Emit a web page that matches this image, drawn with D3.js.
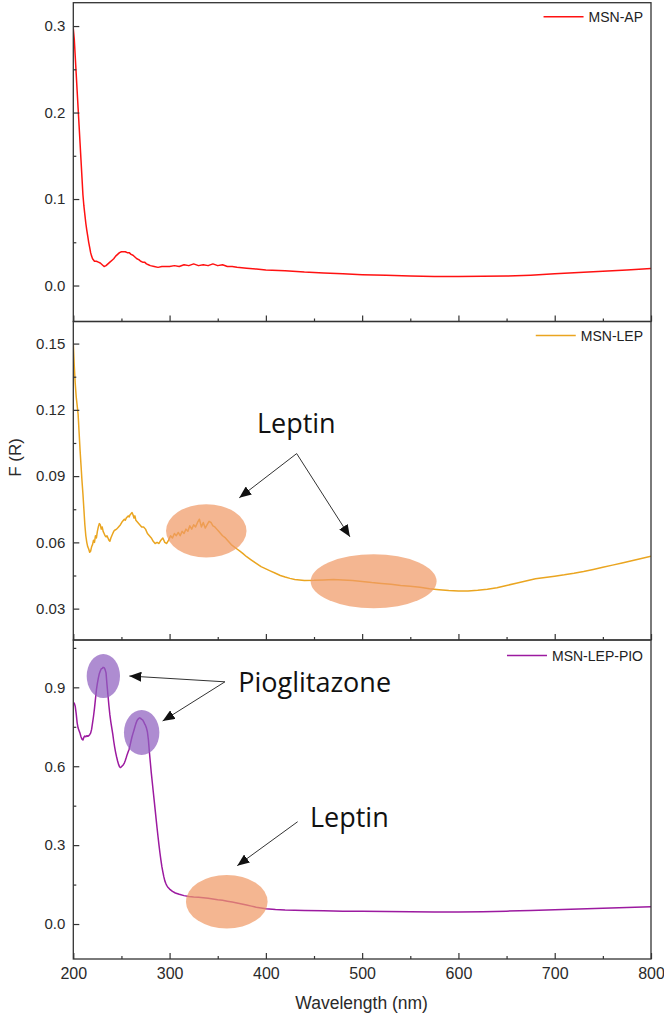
<!DOCTYPE html>
<html><head><meta charset="utf-8">
<script src="https://cdn.jsdelivr.net/npm/d3@7"></script>
<style>body{margin:0;background:#fff}svg{display:block}</style>
</head><body>
<script>
// ---------- DATA ----------
const xTicks = [200,300,400,500,600,700,800];
const xMinorTicks = [250,350,450,550,650,750];

const apWl = [200,201,202,203,204,205,206,207,208,209,210,211,212,213,214,215,216,217,218,219,220,222,224,226,228,230,232,234,236,238,240,242,244,246,248,250,252,254,256,258,260,262,264,266,268,270,272,274,276,278,280,284,288,292,296,300,305,310,315,320,325,330,335,340,345,350,355,360,365,370,380,390,400,420,440,460,480,500,525,550,575,600,625,650,675,700,725,750,775,800];
const apVal = [0.297,0.285,0.265,0.245,0.225,0.205,0.185,0.165,0.145,0.125,0.105,0.092,0.082,0.072,0.064,0.057,0.050,0.044,0.038,0.034,0.031,0.028,0.028,0.027,0.026,0.024,0.022,0.023,0.025,0.027,0.029,0.031,0.034,0.036,0.038,0.039,0.039,0.039,0.038,0.038,0.036,0.035,0.033,0.031,0.030,0.028,0.027,0.027,0.025,0.024,0.023,0.022,0.021,0.022,0.022,0.022,0.023,0.022,0.024,0.023,0.025,0.023,0.024,0.023,0.025,0.023,0.024,0.022,0.022,0.021,0.020,0.019,0.018,0.017,0.0155,0.0145,0.0135,0.0125,0.0118,0.011,0.0105,0.0103,0.0106,0.011,0.012,0.0135,0.015,0.0165,0.018,0.0198];

const lepWl = [200,201,202,203,204,205,206,207,208,209,210,211,212,213,214,215,216,217,218,219,220,221,222,223,224,225,226,227,228,229,230,231,232,233,234,235,236,237,238,239,240,241,242,243,245,247,249,251,253,254,255,256,257,258,259,260,261,262,263,264,265,267,269,271,273,275,277,279,281,283,285,287,289,291,293,295,297,299,301,303,305,307,309,311,313,315,317,319,321,323,325,327,329,331,333,335,337,339,341,343,345,347,349,351,353,355,358,361,364,367,370,373,376,380,385,390,395,400,405,410,415,420,425,430,440,450,460,470,480,490,500,510,520,530,540,550,560,570,580,590,600,610,620,630,640,650,660,670,680,690,700,710,720,730,740,750,760,770,780,790,800];
const lepVal = [0.150,0.140,0.132,0.126,0.122,0.118,0.110,0.102,0.095,0.088,0.082,0.075,0.068,0.063,0.060,0.058,0.057,0.0555,0.056,0.058,0.059,0.061,0.060,0.063,0.062,0.065,0.067,0.0685,0.068,0.066,0.067,0.065,0.064,0.063,0.0625,0.063,0.062,0.061,0.0605,0.062,0.063,0.064,0.065,0.0655,0.066,0.067,0.068,0.0695,0.0705,0.070,0.071,0.0715,0.072,0.0715,0.0725,0.073,0.0735,0.0725,0.071,0.072,0.070,0.069,0.068,0.067,0.067,0.066,0.064,0.063,0.062,0.0605,0.0595,0.060,0.0595,0.061,0.062,0.060,0.0595,0.061,0.063,0.062,0.064,0.063,0.0645,0.063,0.065,0.064,0.066,0.065,0.0675,0.066,0.068,0.067,0.069,0.0705,0.067,0.069,0.0665,0.068,0.0695,0.069,0.0675,0.067,0.066,0.065,0.064,0.063,0.062,0.0605,0.059,0.058,0.057,0.056,0.055,0.0535,0.052,0.0505,0.049,0.048,0.047,0.046,0.045,0.0443,0.0437,0.0432,0.0427,0.0428,0.043,0.0432,0.043,0.0427,0.0423,0.0418,0.0414,0.041,0.0405,0.0401,0.0397,0.039,0.0386,0.0382,0.038,0.038,0.0383,0.0388,0.0395,0.0405,0.0415,0.0425,0.0435,0.0441,0.0447,0.0453,0.046,0.0468,0.0477,0.0487,0.0497,0.0507,0.0517,0.0527,0.0537];

const pioWl = [200,201,202,203,204,205,206,207,208,209,210,211,212,213,214,215,216,217,218,219,220,221,222,223,224,225,226,227,228,229,230,231,232,233,234,235,236,237,238,239,240,241,242,243,244,245,246,247,248,249,250,251,252,253,254,255,256,257,258,259,260,261,262,263,264,265,266,267,268,269,270,271,272,273,274,275,276,277,278,279,280,281,282,283,284,285,286,287,288,289,290,291,292,293,294,295,296,297,298,300,303,306,310,315,320,325,330,335,340,345,350,355,360,365,370,375,380,385,390,395,400,410,420,430,440,460,480,500,525,550,575,600,625,650,675,700,725,750,775,800];
const pioVal = [0.838,0.840,0.828,0.800,0.765,0.745,0.735,0.725,0.712,0.703,0.700,0.710,0.715,0.712,0.716,0.714,0.716,0.720,0.726,0.740,0.765,0.790,0.820,0.855,0.890,0.915,0.935,0.952,0.962,0.970,0.972,0.976,0.975,0.968,0.955,0.910,0.870,0.830,0.795,0.768,0.745,0.722,0.695,0.672,0.652,0.635,0.620,0.607,0.598,0.595,0.598,0.602,0.606,0.612,0.622,0.633,0.645,0.655,0.665,0.680,0.697,0.712,0.725,0.737,0.750,0.762,0.772,0.778,0.782,0.784,0.782,0.778,0.776,0.770,0.762,0.755,0.745,0.730,0.700,0.655,0.615,0.575,0.540,0.505,0.470,0.435,0.400,0.365,0.332,0.300,0.270,0.243,0.218,0.198,0.180,0.165,0.155,0.147,0.141,0.133,0.124,0.118,0.113,0.108,0.105,0.103,0.102,0.100,0.098,0.095,0.092,0.090,0.087,0.084,0.080,0.076,0.072,0.068,0.064,0.061,0.058,0.055,0.053,0.052,0.051,0.050,0.049,0.049,0.048,0.047,0.046,0.046,0.047,0.049,0.051,0.054,0.057,0.060,0.063,0.066];

const apTicks = [0.0,0.1,0.2,0.3];
const apMinor = [0.05,0.15,0.25];
const lepTicks = [0.03,0.06,0.09,0.12,0.15];
const lepMinor = [0.045,0.075,0.105,0.135];
const pioTicks = [0.0,0.3,0.6,0.9];
const pioMinor = [0.15,0.45,0.75,1.05];

const seriesNames = ["MSN-AP","MSN-LEP","MSN-LEP-PIO"];
const seriesColors = ["#ff1111","#eaa520","#9c1aa0"];

// ---------- LAYOUT ----------
const W = 664, H = 1014;
const left = 73.3, right = 651;
const panels = [
  {top:2.7,  bottom:321.5, domain:[-0.0416,0.327], ticks:apTicks, minor:apMinor, fmt:d3.format(".1f"), wl:apWl, val:apVal},
  {top:321.5,bottom:640,   domain:[0.0158,0.160],  ticks:lepTicks, minor:lepMinor, fmt:d3.format(".2f"), wl:lepWl, val:lepVal},
  {top:640,  bottom:959,   domain:[-0.133,1.08],   ticks:pioTicks, minor:pioMinor, fmt:d3.format(".1f"), wl:pioWl, val:pioVal}
];

const svg = d3.select("body").append("svg").attr("width",W).attr("height",H);
const defs = svg.append("defs");
defs.append("marker").attr("id","ah").attr("viewBox","0 0 12 10")
  .attr("refX",12).attr("refY",5).attr("markerWidth",12).attr("markerHeight",10)
  .attr("markerUnits","userSpaceOnUse").attr("orient","auto")
  .append("path").attr("d","M0,0 L12,5 L0,10 Z").attr("fill","#111");

const x = d3.scaleLinear().domain([200,800]).range([left,right]);
const tickFont = "Liberation Sans, Arial, sans-serif";

panels.forEach((p,i)=>{
  const y = d3.scaleLinear().domain(p.domain).range([p.bottom,p.top]);
  p.y = y;
  const g = svg.append("g");
  const cid = "clip"+i;
  defs.append("clipPath").attr("id",cid).append("rect")
    .attr("x",left).attr("y",p.top).attr("width",right-left).attr("height",p.bottom-p.top);
  const data = p.wl.map((w,k)=>[w,p.val[k]]);
  g.append("path").datum(data).attr("clip-path",`url(#${cid})`)
    .attr("fill","none").attr("stroke",seriesColors[i]).attr("stroke-width",1.5)
    .attr("stroke-linejoin","round")
    .attr("d",d3.line().x(d=>x(d[0])).y(d=>y(d[1])));
  const ya = g.append("g").attr("transform",`translate(${left},0)`)
    .call(d3.axisLeft(y).tickValues(p.ticks).tickFormat(p.fmt).tickSize(-6).tickPadding(8));
  ya.call(a=>a.select(".domain").remove());
  ya.selectAll("text").attr("font-size",15);
  const ym = g.append("g").attr("transform",`translate(${left},0)`)
    .call(d3.axisLeft(y).tickValues(p.minor).tickFormat("").tickSize(-3));
  ym.call(a=>a.select(".domain").remove());
  const xa = g.append("g").attr("transform",`translate(0,${p.bottom})`)
    .call(d3.axisBottom(x).tickValues(xTicks).tickFormat(i===2?d3.format("d"):"").tickSize(-6).tickPadding(9));
  xa.call(a=>a.select(".domain").remove());
  xa.selectAll("text").attr("font-size",16);
  const xm = g.append("g").attr("transform",`translate(0,${p.bottom})`)
    .call(d3.axisBottom(x).tickValues(xMinorTicks).tickFormat("").tickSize(-3));
  xm.call(a=>a.select(".domain").remove());
  g.selectAll(".tick line").attr("stroke","#333").attr("stroke-width",1.2);
  g.selectAll(".tick text").attr("font-family",tickFont).attr("fill","#2a2a2a");
  g.append("rect").attr("x",left).attr("y",p.top).attr("width",right-left).attr("height",p.bottom-p.top)
    .attr("fill","none").attr("stroke","#333").attr("stroke-width",1.3);
  const ly = p.top + 14 + (i===2?1.5:0);
  const lt = g.append("text").attr("x",right-8).attr("y",ly+5).attr("text-anchor","end")
    .attr("font-family",tickFont).attr("font-size",14).attr("fill","#222").text(seriesNames[i]);
  const tw = lt.node().getComputedTextLength();
  const xs = right-8-tw-5;
  g.append("line").attr("x1",xs-40).attr("x2",xs).attr("y1",ly).attr("y2",ly)
    .attr("stroke",seriesColors[i]).attr("stroke-width",1.6);
});

svg.append("text").attr("x",(left+right)/2 - 0.5).attr("y",1009).attr("text-anchor","middle")
  .attr("font-family",tickFont).attr("font-size",17.5).attr("fill","#2a2a2a").text("Wavelength (nm)");
svg.append("text").attr("transform","translate(21,457.5) rotate(-90)").attr("text-anchor","middle")
  .attr("font-family",tickFont).attr("font-size",17).attr("fill","#2a2a2a").text("F (R)");

// ---------- ANNOTATIONS (data coordinates) ----------
const annFont = "Open Sans, Lato, sans-serif";
const orangeFill = "#f09a66", purpleFill = "#8f5fbf";
function ellipse(p, cx, cy, rx, ry, fill){
  svg.append("ellipse").attr("cx",x(cx)).attr("cy",p.y(cy))
    .attr("rx",x(200+rx)-x(200)).attr("ry",Math.abs(p.y(cy+ry)-p.y(cy)))
    .attr("fill",fill).attr("opacity",0.72);
}
function arrow(p, x1,y1,x2,y2){
  svg.append("line").attr("x1",x(x1)).attr("y1",p.y(y1)).attr("x2",x(x2)).attr("y2",p.y(y2))
    .attr("stroke","#333").attr("stroke-width",1).attr("marker-end","url(#ah)");
}
function label(p, xx, yy, txt, anchor){
  svg.append("text").attr("x",x(xx)).attr("y",p.y(yy)).attr("text-anchor",anchor)
    .attr("font-family",annFont).attr("font-size",27).attr("fill","#111").text(txt);
}
const P1 = panels[1], P2 = panels[2];
ellipse(P1, 338.1, 0.0652, 41.8, 0.0121, orangeFill);
ellipse(P1, 511.9, 0.0424, 65.4, 0.0122, orangeFill);
label(P1, 431.6, 0.1094, "Leptin", "middle");
arrow(P1, 432, 0.1002, 372.4, 0.0802);
arrow(P1, 432, 0.1002, 487.3, 0.0625);
ellipse(P2, 231.2, 0.9428, 17.3, 0.0836, purpleFill);
ellipse(P2, 271.0, 0.728, 18.4, 0.0855, purpleFill);
ellipse(P2, 359.4, 0.0848, 42.4, 0.1015, orangeFill);
label(P2, 371.3, 0.883, "Pioglitazone", "start");
arrow(P2, 357.5, 0.921, 258.2, 0.943);
arrow(P2, 357.5, 0.921, 292.8, 0.772);
label(P2, 445.8, 0.370, "Leptin", "start");
arrow(P2, 433, 0.389, 370.3, 0.222);
</script>
</body></html>
